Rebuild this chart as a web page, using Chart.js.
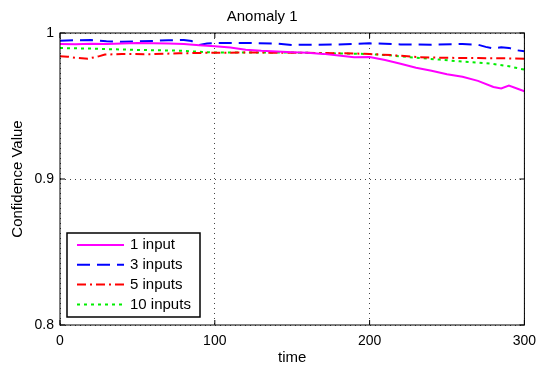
<!DOCTYPE html>
<html>
<head>
<meta charset="utf-8">
<script src="https://cdn.jsdelivr.net/npm/chart.js@4"></script>
<style>
  html, body { margin: 0; padding: 0; background: #fff; }
  #wrap { width: 540px; height: 371px; }
</style>
</head>
<body>
<div id="wrap"><canvas id="lineChart"></canvas></div>
<script>
// データ
let labels = ['1 input', '3 inputs', '5 inputs', '10 inputs'];

let timeA = [0, 10, 20, 30, 40, 50, 60, 70, 80, 90, 100, 110, 120, 130, 140, 150, 160, 170, 180, 190, 200, 210, 220, 230, 240, 250, 260, 270, 280, 285, 290, 300];
let valA = [0.9924, 0.9923, 0.9926, 0.9925, 0.9928, 0.9931, 0.9930, 0.9928, 0.9924, 0.9916, 0.9909, 0.9900, 0.9886, 0.9878, 0.9873, 0.9869, 0.9864, 0.9857, 0.9846, 0.9834, 0.9836, 0.9815, 0.9790, 0.9762, 0.9742, 0.9718, 0.9700, 0.9672, 0.9630, 0.9620, 0.9640, 0.9601];

let timeB = [0, 10, 20, 30, 40, 50, 60, 70, 80, 85, 90, 95, 100, 120, 140, 150, 160, 180, 190, 200, 210, 220, 240, 260, 270, 275, 280, 285, 290, 295, 300];
let valB = [0.9947, 0.9950, 0.9952, 0.9944, 0.9940, 0.9942, 0.9946, 0.9950, 0.9952, 0.9945, 0.9918, 0.9928, 0.9932, 0.9932, 0.9928, 0.9918, 0.9920, 0.9921, 0.9926, 0.9929, 0.9926, 0.9922, 0.9920, 0.9925, 0.9920, 0.9905, 0.9895, 0.9902, 0.9898, 0.9882, 0.9875];

let timeC = [0, 5, 10, 18, 25, 29, 40, 60, 77, 100, 120, 150, 170, 190, 200, 215, 232, 250, 270, 290, 300];
let valC = [0.9840, 0.9838, 0.9830, 0.9824, 0.9840, 0.9852, 0.9856, 0.9855, 0.9861, 0.9865, 0.9866, 0.9865, 0.9863, 0.9860, 0.9856, 0.9848, 0.9834, 0.9830, 0.9828, 0.9826, 0.9824];

let timeD = [0, 10, 20, 30, 50, 77, 100, 120, 150, 170, 200, 215, 232, 245, 258, 270, 280, 290, 300];
let valD = [0.9897, 0.9895, 0.9893, 0.9890, 0.9884, 0.9879, 0.9866, 0.9866, 0.9866, 0.9862, 0.9856, 0.9845, 0.9829, 0.9818, 0.9806, 0.9797, 0.9788, 0.9772, 0.9749];

let xTicks = [0, 100, 200, 300];
let yTicks = [0.8, 0.9, 1];

let fontName = "'Liberation Sans', Arial, sans-serif";

function pts(t, v) {
  return t.map((x, i) => ({ x: x, y: v[i] }));
}

// 枠・目盛り・凡例を描くプラグイン
let matlabBox = {
  id: 'matlabBox',
  afterDatasetsDraw(chart) {
    let ctx = chart.ctx;
    let a = chart.chartArea;
    let xs = chart.scales.x;
    let ys = chart.scales.y;
    ctx.save();
    ctx.strokeStyle = '#000';
    ctx.lineWidth = 1;
    ctx.setLineDash([]);
    ctx.strokeRect(a.left, a.top, a.right - a.left, a.bottom - a.top);
    // 内向きの目盛り
    ctx.beginPath();
    xTicks.forEach(t => {
      let px = xs.getPixelForValue(t);
      ctx.moveTo(px, a.bottom); ctx.lineTo(px, a.bottom - 5);
      ctx.moveTo(px, a.top); ctx.lineTo(px, a.top + 5);
    });
    yTicks.forEach(t => {
      let py = ys.getPixelForValue(t);
      ctx.moveTo(a.left, py); ctx.lineTo(a.left + 5, py);
      ctx.moveTo(a.right, py); ctx.lineTo(a.right - 5, py);
    });
    ctx.stroke();

    // 凡例
    let bx = a.left + 7, by = 233, bw = 133, bh = 84;
    ctx.fillStyle = '#fff';
    ctx.fillRect(bx, by, bw, bh);
    ctx.strokeStyle = '#000';
    ctx.lineWidth = 1.5;
    ctx.strokeRect(bx, by, bw, bh);
    ctx.font = '15px ' + fontName;
    ctx.textBaseline = 'middle';
    chart.data.datasets.forEach((ds, i) => {
      let yy = by + 12 + i * 19.8;
      ctx.strokeStyle = ds.borderColor;
      ctx.lineWidth = 2;
      ctx.setLineDash(ds.borderDash || []);
      ctx.beginPath();
      ctx.moveTo(bx + 10, yy);
      ctx.lineTo(bx + 57, yy);
      ctx.stroke();
      ctx.setLineDash([]);
      ctx.fillStyle = '#000';
      ctx.fillText(ds.label, bx + 63, yy);
    });
    ctx.restore();
  }
};

let lineCtx = document.getElementById('lineChart');
let lineChart = new Chart(lineCtx, {
  type: 'line',
  data: {
    datasets: [{
      label: labels[0],
      data: pts(timeA, valA),
      borderColor: '#ff00ff',
      borderWidth: 2,
    }, {
      label: labels[1],
      data: pts(timeB, valB),
      borderColor: '#0000ff',
      borderWidth: 2,
      borderDash: [13, 7],
    }, {
      label: labels[2],
      data: pts(timeC, valC),
      borderColor: '#ff0000',
      borderWidth: 2,
      borderDash: [9, 4, 2, 4],
    }, {
      label: labels[3],
      data: pts(timeD, valD),
      borderColor: '#00ee00',
      borderWidth: 2,
      borderDash: [3, 4],
    }],
  },
  options: {
    responsive: true,
    maintainAspectRatio: false,
    animation: false,
    elements: { point: { radius: 0 }, line: { tension: 0 } },
    layout: { padding: { left: 0, right: 15.6, top: 0, bottom: 0 } },
    plugins: {
      legend: { display: false },
      tooltip: { enabled: false },
      title: {
        display: true,
        text: 'Anomaly 1',
        color: '#000',
        font: { family: fontName, size: 15, weight: 'normal' },
        padding: { top: 8, bottom: 7 },
      },
    },
    scales: {
      x: {
        type: 'linear',
        min: 0,
        max: 300,
        afterBuildTicks(s) { s.ticks = xTicks.map(v => ({ value: v })); },
        afterFit(s) { s.height = 46; s.paddingLeft = 0; s.paddingRight = 0; },
        grid: {
          color: '#444',
          lineWidth: 1,
          drawTicks: false,
        },
        border: { display: false, dash: [1, 4] },
        ticks: {
          color: '#000',
          padding: 8,
          maxRotation: 0,
          font: { family: fontName, size: 14 },
        },
        title: {
          display: true,
          text: 'time',
          color: '#000',
          padding: { top: 0, bottom: 4 },
          font: { family: fontName, size: 15 },
        },
      },
      y: {
        min: 0.8,
        max: 1,
        afterBuildTicks(s) { s.ticks = yTicks.map(v => ({ value: v })); },
        afterFit(s) { s.width = 60; },
        grid: {
          color: '#444',
          lineWidth: 1,
          drawTicks: false,
        },
        border: { display: false, dash: [1, 4] },
        ticks: {
          color: '#000',
          padding: 6,
          font: { family: fontName, size: 14 },
          callback: v => String(v),
        },
        title: {
          display: true,
          text: 'Confidence Value',
          color: '#000',
          padding: { top: 9, bottom: 2 },
          font: { family: fontName, size: 15 },
        },
      },
    },
  },
  plugins: [matlabBox],
});
</script>
</body>
</html>
